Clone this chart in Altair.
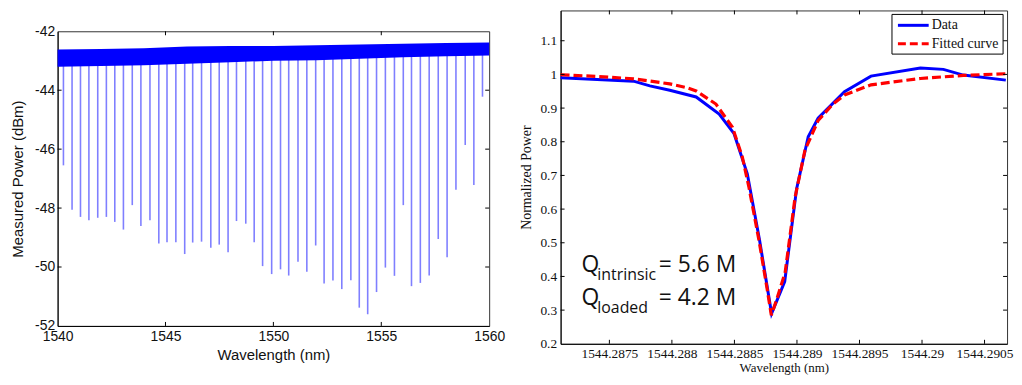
import altair as alt
import pandas as pd

# ---------------- Left panel: transmission spectrum ----------------
dip_wavelength = [1540.27, 1540.67, 1541.06, 1541.45, 1541.86, 1542.26, 1542.65, 1543.05,
                  1543.46, 1543.86, 1544.28, 1544.69, 1545.07, 1545.48, 1545.89, 1546.26,
                  1546.67, 1547.10, 1547.49, 1547.90, 1548.29, 1548.72, 1549.11, 1549.50,
                  1549.92, 1550.33, 1550.71, 1551.14, 1551.55, 1551.96, 1552.35, 1552.76,
                  1553.17, 1553.59, 1553.98, 1554.37, 1554.78, 1555.19, 1555.61, 1556.02,
                  1556.40, 1556.81, 1557.22, 1557.64, 1558.05, 1558.46, 1558.89, 1559.29,
                  1559.69]
dip_power = [-46.55, -48.06, -48.30, -48.41, -48.33, -48.30, -48.47, -48.73,
             -47.90, -48.61, -48.41, -49.20, -49.16, -49.16, -49.56, -49.17,
             -49.14, -49.35, -49.24, -49.50, -48.44, -48.53, -49.16, -49.97,
             -50.24, -50.08, -50.29, -49.82, -50.16, -49.27, -50.56, -50.46,
             -50.75, -50.45, -51.38, -51.60, -50.85, -50.02, -50.30, -47.90,
             -50.65, -50.54, -50.29, -49.05, -49.67, -47.38, -45.86, -47.22,
             -44.22]
band_wavelength = [1540, 1542, 1544, 1546, 1548, 1550, 1552, 1554, 1556, 1558, 1560]
band_upper = [-42.62, -42.60, -42.58, -42.52, -42.50, -42.50, -42.47, -42.45, -42.42, -42.40, -42.38]
band_lower = [-43.20, -43.18, -43.15, -43.10, -43.05, -43.00, -42.98, -42.93, -42.88, -42.85, -42.82]
left_x_ticks = [1540, 1545, 1550, 1555, 1560]
left_y_ticks = [-52, -50, -48, -46, -44, -42]

# ---------------- Right panel: single resonance ----------------
res_data_wl = [1544.287110, 1544.287693, 1544.287824, 1544.287983, 1544.288194, 1544.288378,
               1544.288497, 1544.288603, 1544.288700, 1544.288797, 1544.288902, 1544.288997,
               1544.289090, 1544.289169, 1544.289380, 1544.289592, 1544.289987, 1544.290171,
               1544.290330, 1544.290670]
res_data_power = [0.990, 0.980, 0.966, 0.953, 0.933, 0.882,
                  0.824, 0.705, 0.510, 0.290, 0.385, 0.660,
                  0.815, 0.870, 0.949, 0.995, 1.019, 1.015,
                  0.998, 0.983]
res_fit_wl = [1544.287110, 1544.287403, 1544.287693, 1544.287983, 1544.288115, 1544.288194,
              1544.288352, 1544.288484, 1544.288563, 1544.288615, 1544.288695, 1544.288761,
              1544.288795, 1544.288840, 1544.288906, 1544.288985, 1544.289064, 1544.289169,
              1544.289288, 1544.289380, 1544.289592, 1544.289987, 1544.290330, 1544.290670]
res_fit_power = [0.999, 0.994, 0.987, 0.972, 0.961, 0.951,
                 0.912, 0.843, 0.755, 0.667, 0.510, 0.364,
                 0.285, 0.334, 0.413, 0.635, 0.775, 0.863,
                 0.912, 0.939, 0.969, 0.988, 0.997, 1.002]
right_x_ticks = [1544.2875, 1544.288, 1544.2885, 1544.289, 1544.2895, 1544.29, 1544.2905]
right_y_ticks = [0.2, 0.3, 0.4, 0.5, 0.6, 0.7, 0.8, 0.9, 1.0, 1.1]
series_names = ["Data", "Fitted curve"]
q_lines = [("Q", "intrinsic", "= 5.6 M"), ("Q", "loaded", "= 4.2 M")]

# ---------------- layout / style ----------------
W1, H1 = 435, 297
W2, H2 = 450, 336
TICK = 4
SANS = "Liberation Sans"
SERIF = "Liberation Serif"
INK = "#111111"

one = pd.DataFrame({"a": [0]})


def text_at(txt, x, y, size, font, baseline="alphabetic", align="left"):
    return alt.Chart(pd.DataFrame({"t": [txt]})).mark_text(
        align=align, baseline=baseline, font=font, fontSize=size, color=INK
    ).encode(x=alt.value(x), y=alt.value(y), text="t:N")


def inner_ticks(xvals, yvals, xs, ys, xax, yax, w, h):
    layers = []
    xdf = pd.DataFrame({"v": xvals})
    ydf = pd.DataFrame({"v": yvals})
    for y0, y1 in [(h, h - TICK), (0, TICK)]:
        layers.append(alt.Chart(xdf).mark_rule(color="#000", strokeWidth=1).encode(
            x=alt.X("v:Q", scale=xs, axis=xax), y=alt.value(y0), y2=alt.value(y1)))
    for x0, x1 in [(0, TICK), (w, w - TICK)]:
        layers.append(alt.Chart(ydf).mark_rule(color="#000", strokeWidth=1).encode(
            y=alt.Y("v:Q", scale=ys, axis=yax), x=alt.value(x0), x2=alt.value(x1)))
    return layers


# ---------------- left chart ----------------
xs1 = alt.Scale(domain=[left_x_ticks[0], left_x_ticks[-1]], nice=False, zero=False)
ys1 = alt.Scale(domain=[left_y_ticks[0], left_y_ticks[-1]], nice=False, zero=False)

x_axis1 = alt.Axis(values=left_x_ticks, title="Wavelength (nm)", labelFont=SANS, labelFontSize=14,
                   titleFont=SANS, titleFontSize=15, titleFontWeight="normal", labelColor=INK,
                   titleColor=INK, ticks=False, domainColor="#000", grid=False, labelFlush=False,
                   labelPadding=4, titlePadding=4, labelExpr="toString(datum.value)")
y_axis1 = alt.Axis(values=left_y_ticks, title="Measured Power (dBm)", labelFont=SANS, labelFontSize=14,
                   titleFont=SANS, titleFontSize=15, titleFontWeight="normal", labelColor=INK,
                   titleColor=INK, ticks=False, domainColor="#000", grid=False, labelFlush=False,
                   labelPadding=3, titlePadding=9, labelExpr="toString(datum.value)")

dips = alt.Chart(pd.DataFrame({"wl": dip_wavelength, "p": dip_power})).mark_rule(
    color="#0000ff", opacity=0.5, strokeWidth=1.6
).encode(
    x=alt.X("wl:Q", scale=xs1, axis=x_axis1),
    y=alt.Y("p:Q", scale=ys1, axis=y_axis1),
    y2=alt.datum(-42.8),
)
band = alt.Chart(pd.DataFrame({"wl": band_wavelength, "p": band_upper, "lo": band_lower})).mark_area(
    color="#0000ff"
).encode(
    x=alt.X("wl:Q", scale=xs1, axis=x_axis1),
    y=alt.Y("p:Q", scale=ys1, axis=y_axis1),
    y2="lo:Q",
)
left_plot = alt.layer(
    dips, band,
    *inner_ticks(left_x_ticks[1:-1], left_y_ticks[1:-1], xs1, ys1, x_axis1, y_axis1, W1, H1)
).properties(width=W1, height=H1)

# invisible block above the left plot, to push it down relative to the right panel
blank = alt.Chart(one).mark_rule(opacity=0, strokeWidth=0.5).encode(
    x=alt.value(1), y=alt.value(0), y2=alt.value(1)
).properties(width=W1, height=1, view=alt.ViewBackground(stroke="transparent"))

left = alt.vconcat(blank, left_plot, spacing=11)

# ---------------- right chart ----------------
xs2 = alt.Scale(domain=[1544.28711, 1544.29068], nice=False, zero=False)
ys2 = alt.Scale(domain=[0.2, 1.19], nice=False, zero=False)

x_axis2 = alt.Axis(values=right_x_ticks, title="Wavelength (nm)", labelFont=SERIF, labelFontSize=13.5,
                   titleFont=SERIF, titleFontSize=13, titleFontWeight="normal", labelColor=INK,
                   titleColor=INK, ticks=False, domainColor="#000", grid=False, labelFlush=False,
                   labelPadding=3, titlePadding=1, labelExpr="toString(datum.value)")
y_axis2 = alt.Axis(values=right_y_ticks, title="Normalized Power", labelFont=SERIF, labelFontSize=13.5,
                   titleFont=SERIF, titleFontSize=14, titleFontWeight="normal", labelColor=INK,
                   titleColor=INK, ticks=False, domainColor="#000", grid=False, labelFlush=False,
                   labelPadding=4, titlePadding=6, labelExpr="toString(datum.value)")

data_line = alt.Chart(pd.DataFrame({"wl": res_data_wl, "p": res_data_power})).mark_line(
    color="#0000ff", strokeWidth=3
).encode(
    x=alt.X("wl:Q", scale=xs2, axis=x_axis2),
    y=alt.Y("p:Q", scale=ys2, axis=y_axis2),
)
fit_line = alt.Chart(pd.DataFrame({"wl": res_fit_wl, "p": res_fit_power})).mark_line(
    color="#ff0000", strokeWidth=3.2, strokeDash=[9, 4]
).encode(
    x=alt.X("wl:Q", scale=xs2, axis=x_axis2),
    y=alt.Y("p:Q", scale=ys2, axis=y_axis2),
)

# legend box (drawn as a guide in pixel space)
LX0, LX1, LY0, LY1 = 334, 446, 4, 44
leg_box = alt.Chart(one).mark_rect(fill="white", stroke="#000", strokeWidth=1).encode(
    x=alt.value(LX0), x2=alt.value(LX1), y=alt.value(LY0), y2=alt.value(LY1))
leg_l1 = alt.Chart(one).mark_rule(color="#0000ff", strokeWidth=3).encode(
    x=alt.value(LX0 + 6), x2=alt.value(LX0 + 37), y=alt.value(15))
leg_l2 = alt.Chart(one).mark_rule(color="#ff0000", strokeWidth=3, strokeDash=[8, 4]).encode(
    x=alt.value(LX0 + 6), x2=alt.value(LX0 + 37), y=alt.value(33.5))
leg_t1 = text_at(series_names[0], LX0 + 40, 15, 14, SERIF, baseline="middle")
leg_t2 = text_at(series_names[1], LX0 + 40, 33.5, 14, SERIF, baseline="middle")

# Q annotations
ann = []
for i, (q, sub, val) in enumerate(q_lines):
    yb = 264 + i * 33
    ann.append(text_at(q, 21, yb, 23, "Open Sans"))
    ann.append(text_at(sub, 37, yb + 8, 16, "Open Sans"))
    ann.append(text_at(val, 99, yb, 23, "Open Sans"))

right = alt.layer(
    data_line, fit_line,
    *inner_ticks(right_x_ticks, right_y_ticks[1:], xs2, ys2, x_axis2, y_axis2, W2, H2),
    leg_box, leg_l1, leg_l2, leg_t1, leg_t2, *ann
).properties(width=W2, height=H2)

chart = alt.hconcat(left, right, spacing=13).properties(
    padding={"left": 2, "top": 0, "right": 0, "bottom": 0}
).configure_view(stroke="#333", strokeWidth=1)

chart.save("out.html", embed_options={"renderer": "svg", "actions": False})
